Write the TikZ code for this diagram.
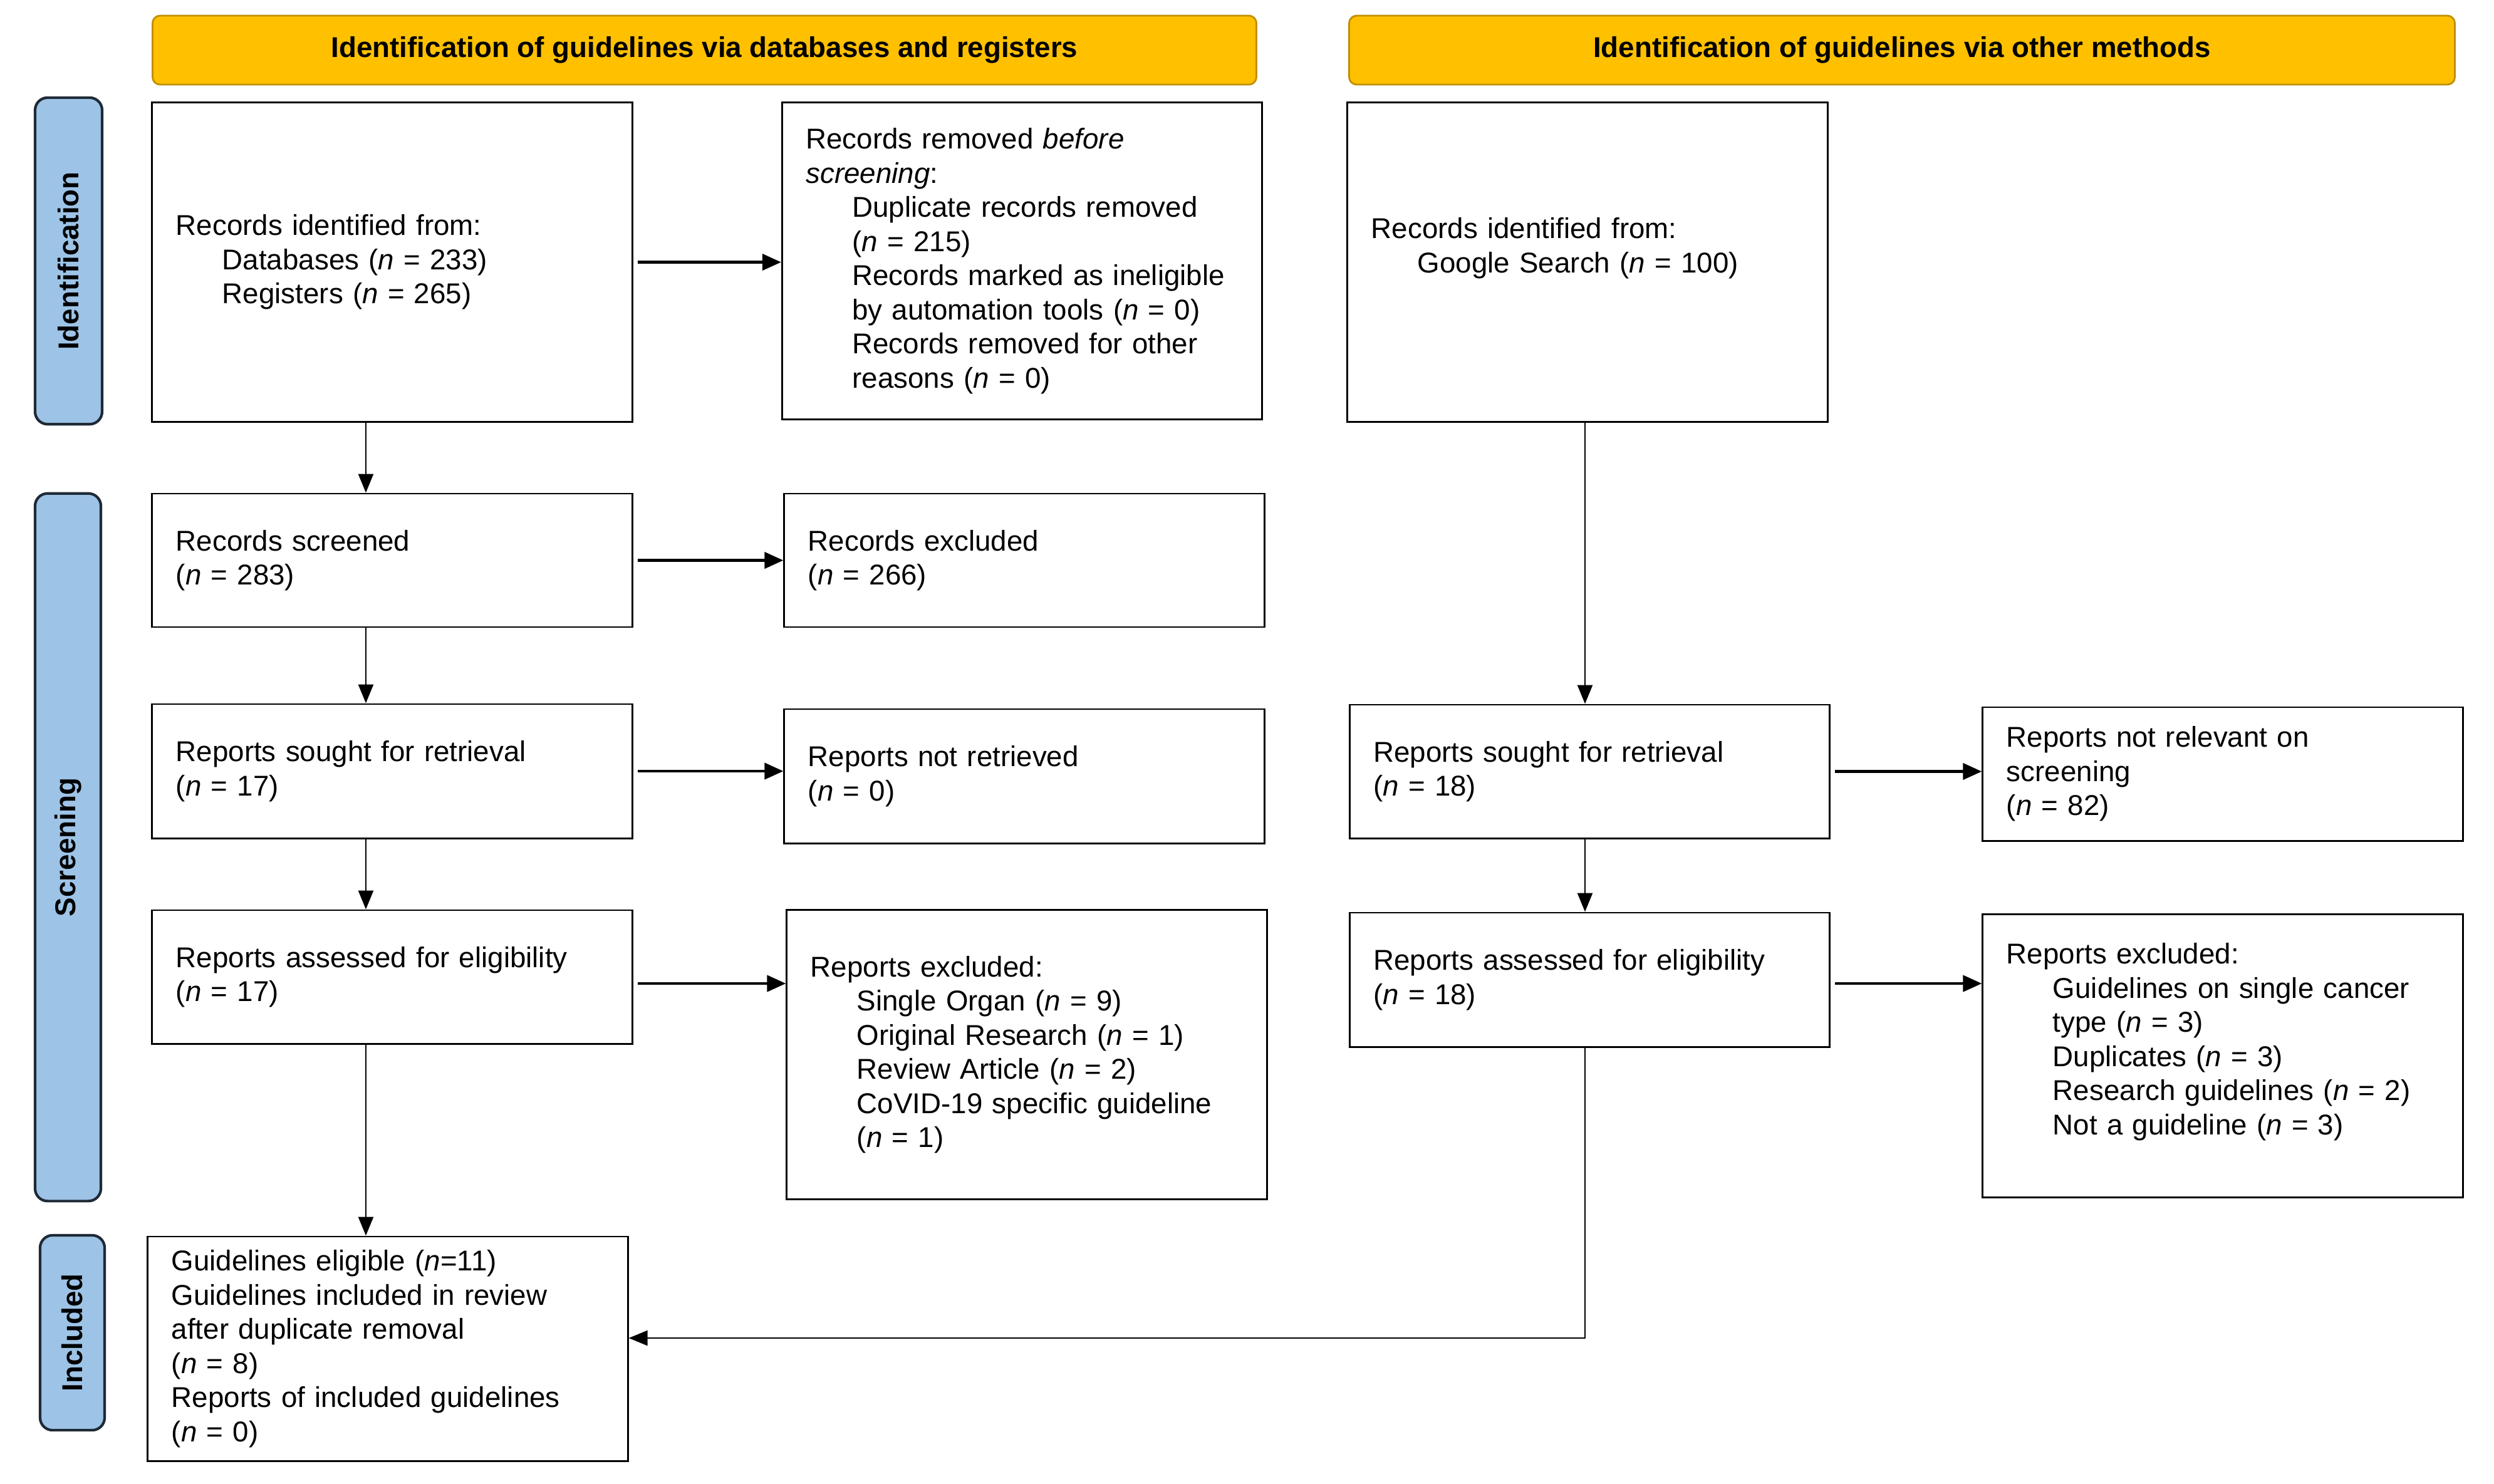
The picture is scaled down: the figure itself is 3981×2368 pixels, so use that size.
\documentclass[tikz,border=0pt]{standalone}
\usepackage{fontspec}
\setmainfont{Liberation Sans}
\usetikzlibrary{arrows.meta}
\definecolor{prGold}{HTML}{FFC000}
\definecolor{prGoldEdge}{HTML}{BF9000}
\definecolor{prBlue}{HTML}{9DC3E6}
\definecolor{prEdge}{HTML}{1F2A36}
\newcommand{\pFlowFont}{\fontsize{13pt}{15.5pt}\selectfont}
\newcommand{\pFlowIndent}{\hspace*{0.74cm}}
\newcommand{\pFlowN}[1]{(\textit{n} = #1)}
\tikzset{
  prHeader/.style={draw=prGoldEdge, fill=prGold, line width=0.8pt, rounded corners=0.12cm, font=\pFlowFont\bfseries, minimum height=1.1cm},
  prStage/.style={draw=prEdge, fill=prBlue, line width=1.2pt, rounded corners=0.2cm, rotate=90, font=\pFlowFont\bfseries, inner sep=0pt},
  prBox/.style={draw, line width=0.8pt, align=left, text width=6.9cm, inner xsep=0.38cm, inner ysep=0pt, font=\pFlowFont},
  prDown/.style={-{Triangle[length=0.3cm,width=0.24cm]}, line width=0.75pt},
  prSide/.style={-{Triangle[length=0.3cm,width=0.26cm]}, line width=1.2pt, shorten <=2pt},
}
\begin{document}
\begin{tikzpicture}[x=0.01cm,y=-0.01cm]
\useasboundingbox (0,0) rectangle (3981,2368);
% headers and stages
\node[prHeader, minimum width=17.61cm] (hdDb) at (1124.5,80) {Identification of guidelines via databases and registers};
\node[prHeader, minimum width=17.64cm] (hdOther) at (3036,80) {Identification of guidelines via other methods};
\node[prStage, minimum width=5.21cm, minimum height=1.07cm] (stId) at (109.5,416.5) {Identification};
\node[prStage, minimum width=11.29cm, minimum height=1.05cm] (stScr) at (108.5,1352.5) {Screening};
\node[prStage, minimum width=3.11cm, minimum height=1.03cm] (stInc) at (115.5,2127.5) {Included};
% databases and registers
\node[prBox, minimum height=5.09cm] (idDb) at (626,418.5) {Records identified from:\\ \pFlowIndent Databases \pFlowN{233}\\ \pFlowIndent Registers \pFlowN{265}};
\node[prBox, minimum height=5.05cm] (idRemoved) at (1631.5,416.5) {Records removed \textit{before}\\ \textit{screening}:\\ \pFlowIndent Duplicate records removed\\ \pFlowIndent \pFlowN{215}\\ \pFlowIndent Records marked as ineligible\\ \pFlowIndent by automation tools \pFlowN{0}\\ \pFlowIndent Records removed for other\\ \pFlowIndent reasons \pFlowN{0}};
\node[prBox, minimum height=2.13cm] (scrScreened) at (626,894.5) {Records screened\\ \pFlowN{283}};
\node[prBox, minimum height=2.13cm] (scrExcluded) at (1635,894.5) {Records excluded\\ \pFlowN{266}};
\node[prBox, minimum height=2.14cm] (scrSought) at (626,1231) {Reports sought for retrieval\\ \pFlowN{17}};
\node[prBox, minimum height=2.14cm] (scrNotRetr) at (1635,1239) {Reports not retrieved\\ \pFlowN{0}};
\node[prBox, minimum height=2.13cm] (scrAssessed) at (626,1559.5) {Reports assessed for eligibility\\ \pFlowN{17}};
\node[prBox, minimum height=4.61cm] (scrExclReports) at (1639,1683.5) {Reports excluded:\\ \pFlowIndent Single Organ \pFlowN{9}\\ \pFlowIndent Original Research \pFlowN{1}\\ \pFlowIndent Review Article \pFlowN{2}\\ \pFlowIndent CoVID-19 specific guideline\\ \pFlowIndent \pFlowN{1}};
\node[prBox, minimum height=3.58cm] (incIncluded) at (619,2153) {Guidelines eligible (\textit{n}=11)\\ Guidelines included in review\\ after duplicate removal\\ \pFlowN{8}\\ Reports of included guidelines\\ \pFlowN{0}};
% other methods
\node[prBox, minimum height=5.09cm] (idOther) at (2534,418.5) {Records identified from:\\ \pFlowIndent Google Search \pFlowN{100}\\ \mbox{}};
\node[prBox, minimum height=2.13cm] (othSought) at (2537.5,1231.5) {Reports sought for retrieval\\ \pFlowN{18}};
\node[prBox, minimum height=2.13cm] (othNotRel) at (3548,1235.5) {Reports not relevant on\\ screening\\ \pFlowN{82}};
\node[prBox, minimum height=2.14cm] (othAssessed) at (2537.5,1564) {Reports assessed for eligibility\\ \pFlowN{18}};
\node[prBox, minimum height=4.51cm] (othExcluded) at (3548,1685.5) {Reports excluded:\\ \pFlowIndent Guidelines on single cancer\\ \pFlowIndent type \pFlowN{3}\\ \pFlowIndent Duplicates \pFlowN{3}\\ \pFlowIndent Research guidelines \pFlowN{2}\\ \pFlowIndent Not a guideline \pFlowN{3}\\ \mbox{}};
% connectors
\coordinate (colDb) at (584,0);
\coordinate (colOther) at (2530,0);
\coordinate (rowAssess) at (0,1570);
\coordinate (rowInc) at (0,2136);
\draw[prDown] (idDb.south -| colDb) -- (scrScreened.north -| colDb);
\draw[prDown] (scrScreened.south -| colDb) -- (scrSought.north -| colDb);
\draw[prDown] (scrSought.south -| colDb) -- (scrAssessed.north -| colDb);
\draw[prDown] (scrAssessed.south -| colDb) -- (incIncluded.north -| colDb);
\draw[prDown] (idOther.south -| colOther) -- (othSought.north -| colOther);
\draw[prDown] (othSought.south -| colOther) -- (othAssessed.north -| colOther);
\draw[prDown] (othAssessed.south -| colOther) |- (incIncluded.east |- rowInc);
\draw[prSide] (idDb.east) -- (idDb.east -| idRemoved.west);
\draw[prSide] (scrScreened.east) -- (scrScreened.east -| scrExcluded.west);
\draw[prSide] (scrSought.east) -- (scrSought.east -| scrNotRetr.west);
\draw[prSide] (scrAssessed.east |- rowAssess) -- (scrExclReports.west |- rowAssess);
\draw[prSide] (othSought.east) -- (othSought.east -| othNotRel.west);
\draw[prSide] (othAssessed.east |- rowAssess) -- (othExcluded.west |- rowAssess);
\end{tikzpicture}
\end{document}
